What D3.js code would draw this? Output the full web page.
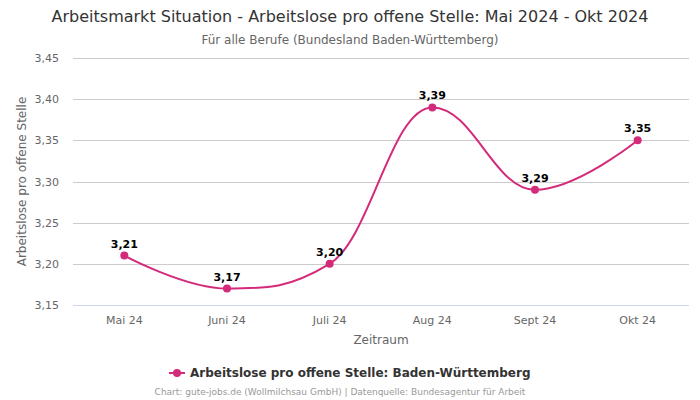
<!DOCTYPE html>
<html><head><meta charset="utf-8">
<script src="https://cdn.jsdelivr.net/npm/d3@7"></script>
<style>body{margin:0;background:#fff;font-family:"DejaVu Sans",sans-serif}</style>
</head><body>
<svg id="c" width="700" height="400"></svg>
<script>
const categories = ["Mai 24","Juni 24","Juli 24","Aug 24","Sept 24","Okt 24"];
const values = [3.21,3.17,3.20,3.39,3.29,3.35];
const yTicks = [3.15,3.20,3.25,3.30,3.35,3.40,3.45];
const seriesName = "Arbeitslose pro offene Stelle: Baden-Württemberg";
const color = "#d42a7a";
const fmt = v => v.toFixed(2).replace(".", ",");

const svg = d3.select("#c");
const L=73, R=689, T=58, B=305;
const x = d3.scaleBand().domain(categories).range([L,R]);
const y = d3.scaleLinear().domain([3.15,3.45]).range([B,T]);

svg.append("text").attr("x",350).attr("y",22).attr("text-anchor","middle").attr("font-size",16).attr("fill","#333")
  .text("Arbeitsmarkt Situation - Arbeitslose pro offene Stelle: Mai 2024 - Okt 2024");
svg.append("text").attr("x",350).attr("y",44).attr("text-anchor","middle").attr("font-size",12).attr("fill","#666")
  .text("Für alle Berufe (Bundesland Baden-Württemberg)");

// grid
svg.append("g").selectAll("line").data(yTicks).join("line")
  .attr("x1",L).attr("x2",R).attr("y1",d=>Math.round(y(d))+0.5).attr("y2",d=>Math.round(y(d))+0.5)
  .attr("stroke",(d,i)=>i===0?"#ccd6eb":"#cccccc").attr("stroke-width",1);
svg.append("g").selectAll("text").data(yTicks).join("text")
  .attr("x",59).attr("y",d=>y(d)+4).attr("text-anchor","end").attr("font-size",11).attr("fill","#666").text(fmt);
svg.append("g").selectAll("text").data(categories).join("text")
  .attr("x",d=>x(d)+x.bandwidth()/2).attr("y",324).attr("text-anchor","middle").attr("font-size",11).attr("fill","#666").text(d=>d);
svg.append("text").attr("x",(L+R)/2).attr("y",344).attr("text-anchor","middle").attr("font-size",12).attr("fill","#666").text("Zeitraum");
svg.append("text").attr("transform",`translate(26,${(T+B)/2}) rotate(-90)`).attr("text-anchor","middle").attr("font-size",12).attr("fill","#666").text("Arbeitslose pro offene Stelle");

// Highcharts-like spline
const pts = values.map((v,i)=>({x:x(categories[i])+x.bandwidth()/2, y:y(v)}));
function splinePath(p){
  const s=1.5, den=s+1; let d="";
  p.forEach((pt,i)=>{
    if(i===0){d+=`M${pt.x},${pt.y}`;return;}
    const last=p[i-1], next=p[i+1];
    let lcx=pt.x, lcy=pt.y;
    if(next){
      lcx=(s*pt.x+last.x)/den; lcy=(s*pt.y+last.y)/den;
      let rcx=(s*pt.x+next.x)/den, rcy=(s*pt.y+next.y)/den;
      let corr=0;
      if(rcx!==lcx) corr=((rcy-lcy)*(rcx-pt.x))/(rcx-lcx)+pt.y-rcy;
      lcy+=corr; rcy+=corr;
      if(lcy>last.y&&lcy>pt.y){lcy=Math.max(last.y,pt.y);rcy=2*pt.y-lcy;}
      else if(lcy<last.y&&lcy<pt.y){lcy=Math.min(last.y,pt.y);rcy=2*pt.y-lcy;}
      if(rcy>next.y&&rcy>pt.y){rcy=Math.max(next.y,pt.y);lcy=2*pt.y-rcy;}
      else if(rcy<next.y&&rcy<pt.y){rcy=Math.min(next.y,pt.y);lcy=2*pt.y-rcy;}
      pt.rcx=rcx; pt.rcy=rcy;
    }
    const a=last.rcx??last.x, b=last.rcy??last.y;
    d+=`C${a},${b} ${lcx},${lcy} ${pt.x},${pt.y}`;
  });
  return d;
}
svg.append("path").attr("d",splinePath(pts)).attr("fill","none").attr("stroke",color).attr("stroke-width",2);
svg.append("g").selectAll("circle").data(pts).join("circle").attr("cx",d=>d.x).attr("cy",d=>d.y).attr("r",4).attr("fill",color);
svg.append("g").selectAll("text").data(values).join("text")
  .attr("x",(d,i)=>pts[i].x).attr("y",(d,i)=>pts[i].y-8).attr("text-anchor","middle")
  .attr("font-size",11).attr("font-weight","bold").attr("fill","#000").text(fmt);

// legend
const lg = svg.append("g");
lg.append("line").attr("x1",169).attr("x2",185).attr("y1",373).attr("y2",373).attr("stroke",color).attr("stroke-width",2);
lg.append("circle").attr("cx",177).attr("cy",373).attr("r",4).attr("fill",color);
lg.append("text").attr("x",190).attr("y",377).attr("font-size",12).attr("font-weight","bold").attr("fill","#333").text(seriesName);
svg.append("text").attr("x",340).attr("y",395).attr("text-anchor","middle").attr("font-size",9).attr("fill","#999")
  .text("Chart: gute-jobs.de (Wollmilchsau GmbH) | Datenquelle: Bundesagentur für Arbeit");
</script>
</body></html>
